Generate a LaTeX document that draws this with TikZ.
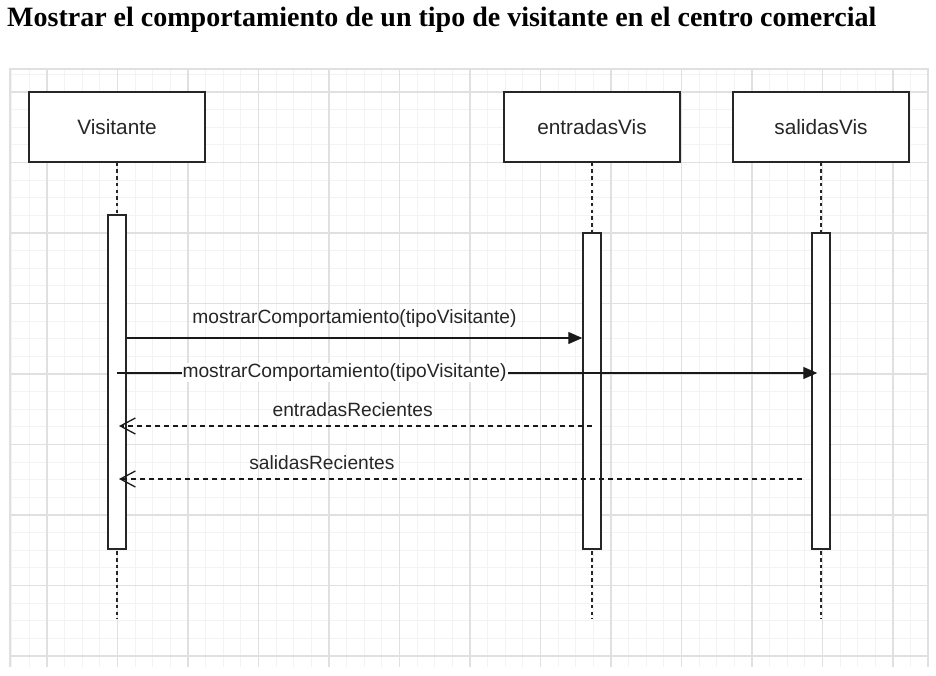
\documentclass[tikz,border=0pt]{standalone}
\usepackage{fontspec}
\setmainfont{Liberation Serif}
\newfontfamily\diagfont{Liberation Sans}
\usetikzlibrary{calc,arrows.meta}
\definecolor{gridminor}{RGB}{243,243,243}
\definecolor{gridmajor}{RGB}{224,224,224}
\tikzset{
	lifebox/.style={draw=black!85, line width=1.5pt, fill=white, minimum width=176pt, minimum height=70pt, inner sep=0pt, font=\diagfont\fontsize{20.8}{24}\selectfont, text=black!85},
	actbox/.style={draw=black!85, line width=1.5pt, fill=white, minimum width=18pt, inner sep=0pt},
	lifeline/.style={line width=1.4pt, color=black!85, dash pattern=on 3.5pt off 3.2pt},
	callmsg/.style={line width=1.3pt, color=black!90, -{Triangle[length=14pt, width=12pt]}},
	retmsg/.style={line width=1.3pt, color=black!90, dash pattern=on 5.5pt off 3.5pt, -{Straight Barb[length=15pt, width=16pt]}},
	msglabel/.style={font=\diagfont\fontsize{19.2}{22}\selectfont, text=black!85, inner sep=0pt},
}

\begin{document}
\begin{tikzpicture}[x=1pt, y=-1pt]
			%%%%% START %%%%%
			\useasboundingbox (0,0) rectangle (936,676);
			
			\node[anchor=base west, inner sep=0pt] (title) at (7,27) {\fontsize{28}{32}\selectfont\bfseries Mostrar el comportamiento de un tipo de visitante en el centro comercial};
			
			% grid
			\begin{scope}
				\clip (10,69) rectangle (928,667);
				\foreach \k in {-2,...,50} \draw[gridminor, line width=1pt] ({47+17.625*\k},69) -- ({47+17.625*\k},667);
				\foreach \k in {-1,...,32} \draw[gridminor, line width=1pt] (10,{92+17.625*\k}) -- (928,{92+17.625*\k});
				\foreach \k in {0,...,12} \draw[gridmajor, line width=1.2pt] ({47+70.5*\k},69) -- ({47+70.5*\k},667);
				\foreach \k in {0,...,8} \draw[gridmajor, line width=1.2pt] (10,{92+70.5*\k}) -- (928,{92+70.5*\k});
			\end{scope}
			\draw[gridmajor, line width=1.2pt] (10,667) -- (10,69) -- (928,69) -- (928,667);
			
			\node[lifebox] (visitante) at (117,127) {Visitante};
			\node[lifebox] (entradas) at (592,127) {entradasVis};
			\node[lifebox] (salidas) at (821,127) {salidasVis};
			
			\coordinate (lifeend) at (0,619);
			\draw[lifeline] (visitante.south) -- (visitante.south |- lifeend);
			\draw[lifeline] (entradas.south) -- (entradas.south |- lifeend);
			\draw[lifeline] (salidas.south) -- (salidas.south |- lifeend);
			
			\node[actbox, minimum height=334pt] (vact) at (117,382) {};
			\node[actbox, minimum height=316pt] (eact) at (592,391) {};
			\node[actbox, minimum height=316pt] (sact) at (821,391) {};
			
			\coordinate (m1) at (0,338);
			\coordinate (m2) at (0,373);
			\coordinate (r1) at (0,426);
			\coordinate (r2) at (0,479);
			
			\draw[callmsg] (vact.east |- m1) -- node[msglabel, anchor=base, yshift=15pt] {mostrarComportamiento(tipoVisitante)} (eact.west |- m1);
			\draw[callmsg] (vact.center |- m2) -- node[msglabel, pos=0.325, anchor=base, yshift=-4.5pt, fill=white, inner xsep=1pt, inner ysep=1pt] {mostrarComportamiento(tipoVisitante)} ($(sact.west |- m2)+(6,0)$);
			
			\draw[retmsg] (eact.center |- r1) -- node[msglabel, pos=0.506, anchor=base, yshift=10pt] {entradasRecientes} ($(vact.center |- r1)+(2,0)$);
			\draw[retmsg] ($(sact.west |- r2)+(-9,0)$) -- node[msglabel, pos=0.703, anchor=base, yshift=10pt] {salidasRecientes} ($(vact.center |- r2)+(2,0)$);
			
			%%%%% END %%%%%
\end{tikzpicture}
\end{document}
